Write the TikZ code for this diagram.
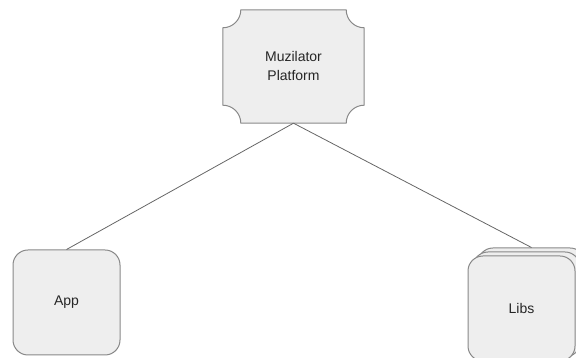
\documentclass[tikz,border=0pt]{standalone}
\usepackage{fontspec}
\setmainfont{Liberation Sans}
\usetikzlibrary{backgrounds}
\definecolor{boxfill}{HTML}{EEEEEE}
\definecolor{boxline}{HTML}{888888}
\definecolor{wire}{HTML}{666666}
\tikzset{
  card/.style={draw=boxline, fill=boxfill, line width=1pt, rounded corners=15pt,
    minimum width=107pt, minimum height=105pt, inner sep=0pt,
    font=\fontsize{14}{19}\selectfont, text=black!85},
  link/.style={draw=wire, line width=0.8pt}
}
\begin{document}
\begin{tikzpicture}[x=1pt, y=1pt]
          \useasboundingbox (0, 0) rectangle (576, 358);
          \node [minimum width=141pt, minimum height=113pt, inner sep=0pt,
            align=center, font=\fontsize{14}{19}\selectfont, text=black!85]
            (plat) at (293.5, 291.5) {Muzilator\\Platform};
          \begin{scope}[on background layer]
          \draw [draw=boxline, fill=boxfill, line width=1pt]
            ([xshift=18pt]plat.north west) -- ([xshift=-18pt]plat.north east)
            arc [start angle=180, end angle=270, radius=18pt]
            -- ([yshift=18pt]plat.south east)
            arc [start angle=90, end angle=180, radius=18pt]
            -- ([xshift=18pt]plat.south west)
            arc [start angle=0, end angle=90, radius=18pt]
            -- ([yshift=-18pt]plat.north west)
            arc [start angle=270, end angle=360, radius=18pt] -- cycle;
          \end{scope}

          \node [card] (app) at (66.5, 55.5) {App};

          % stacked cards
          \node [card] (libs3) at (531.5, 57.5) {};
          \node [card] (libs2) at (526.5, 53.5) {};
          \node [card] (libs) at (521.5, 49.5) {Libs};

          \draw [link] (plat.south) -- (app.north);
          \draw [link] (plat.south) -- (libs3.north);
\end{tikzpicture}
\end{document}
